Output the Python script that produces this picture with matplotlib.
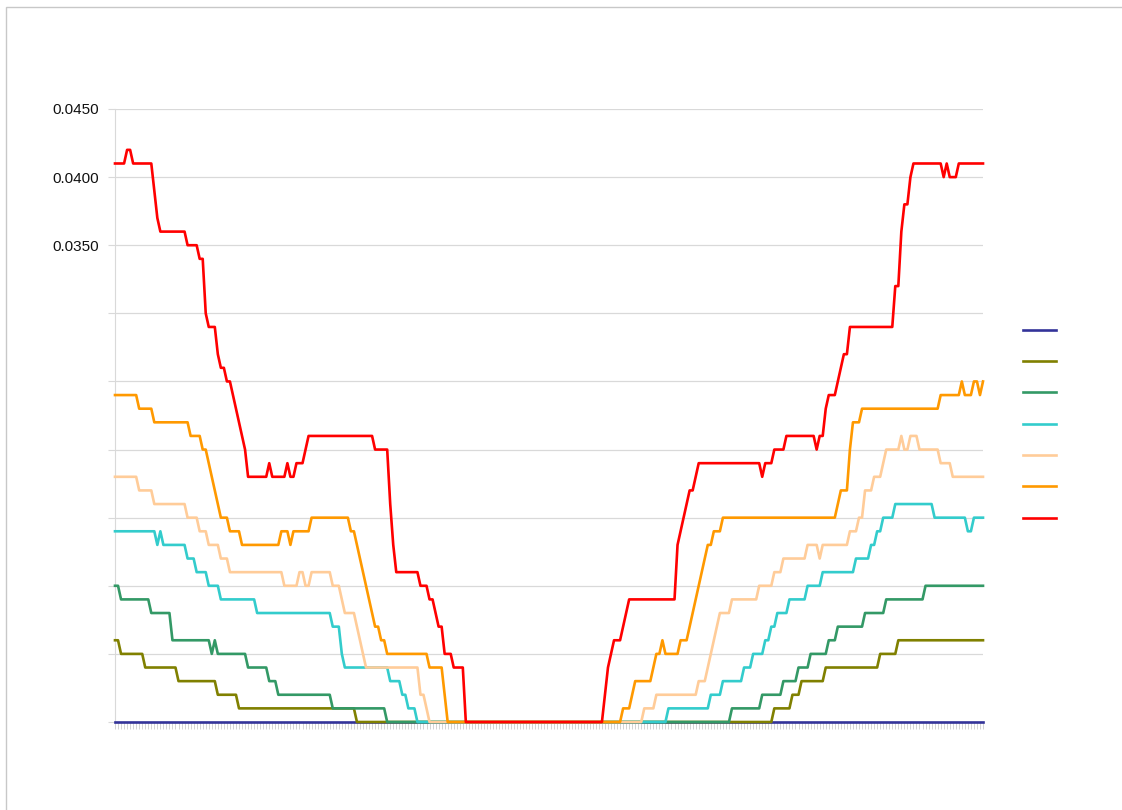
import numpy as np
import matplotlib
matplotlib.use('Agg')
import matplotlib.pyplot as plt
from matplotlib.lines import Line2D
from matplotlib.patches import Rectangle

# values as (value, number of points) runs, 288 points each
blue = [(0.0, 288)]
olive = [(0.006, 2), (0.005, 8), (0.004, 11), (0.003, 13), (0.002, 7), (0.001, 39),
         (0.0, 138), (0.001, 6), (0.002, 3), (0.003, 8), (0.004, 18), (0.005, 6), (0.006, 29)]
green = [(0.010, 2), (0.009, 10), (0.008, 7), (0.006, 13), (0.005, 1), (0.006, 1),
         (0.005, 10), (0.004, 7), (0.003, 3), (0.002, 18), (0.001, 18), (0.0, 114),
         (0.001, 10), (0.002, 7), (0.003, 5), (0.004, 4), (0.005, 6), (0.006, 3),
         (0.007, 9), (0.008, 7), (0.009, 13), (0.010, 20)]
cyan = [(0.014, 14), (0.013, 1), (0.014, 1), (0.013, 8), (0.012, 3), (0.011, 4),
        (0.010, 4), (0.009, 12), (0.008, 25), (0.007, 3), (0.005, 1), (0.004, 15),
        (0.003, 4), (0.002, 2), (0.001, 3), (0.0, 83), (0.001, 14), (0.002, 4),
        (0.003, 7), (0.004, 3), (0.005, 4), (0.006, 2), (0.007, 2), (0.008, 4),
        (0.009, 6), (0.010, 5), (0.011, 11), (0.012, 5), (0.013, 2), (0.014, 2),
        (0.015, 4), (0.016, 13), (0.015, 11), (0.014, 2), (0.015, 4)]
peach = [(0.018, 8), (0.017, 5), (0.016, 11), (0.015, 4), (0.014, 3), (0.013, 4),
         (0.012, 3), (0.011, 18), (0.010, 5), (0.011, 2), (0.010, 2), (0.011, 7),
         (0.010, 3), (0.009, 1), (0.008, 4), (0.007, 1), (0.006, 1), (0.005, 1),
         (0.004, 18), (0.002, 2), (0.001, 1), (0.0, 71), (0.001, 4), (0.002, 14),
         (0.003, 3), (0.004, 1), (0.005, 1), (0.006, 1), (0.007, 1), (0.008, 4),
         (0.009, 9), (0.010, 5), (0.011, 3), (0.012, 8), (0.013, 4), (0.012, 1),
         (0.013, 9), (0.014, 3), (0.015, 2), (0.017, 3), (0.018, 3), (0.019, 1),
         (0.020, 5), (0.021, 1), (0.020, 2), (0.021, 3), (0.020, 7), (0.019, 4),
         (0.018, 11)]
orange = [(0.024, 8), (0.023, 5), (0.022, 12), (0.021, 4), (0.020, 2), (0.019, 1),
          (0.018, 1), (0.017, 1), (0.016, 1), (0.015, 3), (0.014, 4), (0.013, 13),
          (0.014, 3), (0.013, 1), (0.014, 6), (0.015, 13), (0.014, 2), (0.013, 1),
          (0.012, 1), (0.011, 1), (0.010, 1), (0.009, 1), (0.008, 1), (0.007, 2),
          (0.006, 2), (0.005, 14), (0.004, 5), (0.002, 1), (0.0, 58), (0.001, 3),
          (0.002, 1), (0.003, 6), (0.004, 1), (0.005, 2), (0.006, 1), (0.005, 5),
          (0.006, 3), (0.007, 1), (0.008, 1), (0.009, 1), (0.010, 1), (0.011, 1),
          (0.012, 1), (0.013, 2), (0.014, 3), (0.015, 38), (0.016, 1), (0.017, 3),
          (0.020, 1), (0.022, 3), (0.023, 26), (0.024, 7), (0.025, 1), (0.024, 3),
          (0.025, 2), (0.024, 1), (0.025, 1)]
red = [(0.041, 4), (0.042, 2), (0.041, 7), (0.039, 1), (0.037, 1), (0.036, 9),
       (0.035, 4), (0.034, 2), (0.030, 1), (0.029, 3), (0.027, 1), (0.026, 2),
       (0.025, 2), (0.024, 1), (0.023, 1), (0.022, 1), (0.021, 1), (0.020, 1),
       (0.018, 7), (0.019, 1), (0.018, 5), (0.019, 1), (0.018, 2), (0.019, 3),
       (0.020, 1), (0.021, 22), (0.020, 5), (0.016, 1), (0.013, 1), (0.011, 8),
       (0.010, 3), (0.009, 2), (0.008, 1), (0.007, 2), (0.005, 3), (0.004, 4),
       (0.0, 46), (0.002, 1), (0.004, 1), (0.005, 1), (0.006, 3), (0.007, 1),
       (0.008, 1), (0.009, 16), (0.013, 1), (0.014, 1), (0.015, 1), (0.016, 1),
       (0.017, 2), (0.018, 1), (0.019, 21), (0.018, 1), (0.019, 3), (0.020, 4),
       (0.021, 10), (0.020, 1), (0.021, 2), (0.023, 1), (0.024, 3), (0.025, 1),
       (0.026, 1), (0.027, 2), (0.029, 15), (0.032, 2), (0.036, 1), (0.038, 2),
       (0.040, 1), (0.041, 10), (0.040, 1), (0.041, 1), (0.040, 3), (0.041, 9)]

series = [blue, olive, green, cyan, peach, orange, red]
colors = ['#333399', '#808000', '#339966', '#33CCCC', '#FFCC99', '#FF9900', '#FF0000']

y_ticks = [0.0, 0.005, 0.010, 0.015, 0.020, 0.025, 0.030, 0.035, 0.040, 0.045]
y_labels = ['', '', '', '', '', '', '', '0.0350', '0.0400', '0.0450']


def expand(runs):
    vals = [v for v, n in runs]
    counts = [n for v, n in runs]
    return np.repeat(vals, counts)


plt.rcParams['font.family'] = ['Liberation Sans', 'DejaVu Sans']

fig = plt.figure(figsize=(11.22, 8.10), dpi=100)
ax = fig.add_axes([115 / 1122, 88 / 810, 868 / 1122, 613 / 810])

n = 288
x = np.arange(n)
for s, c in zip(series, colors):
    y = expand(s)
    assert len(y) == n, (c, len(y))
    ax.plot(x, y, color=c, lw=1.9, solid_joinstyle='round', zorder=3, clip_on=False)

ax.set_xlim(0, n - 1)
ax.set_ylim(0, 0.045)
ax.set_yticks(y_ticks)
ax.set_yticklabels(y_labels, fontsize=11)
ax.set_xticks(x)
ax.set_xticklabels([])
ax.grid(axis='y', color='#d9d9d9', lw=0.9)
ax.set_axisbelow(True)
ax.tick_params(axis='y', length=5, color='#d9d9d9', pad=6.5, labelcolor='#111111')
ax.tick_params(axis='x', length=5, width=0.6, color='#cccccc', direction='out')
for side in ['top', 'right']:
    ax.spines[side].set_visible(False)
ax.spines['left'].set_color('#d9d9d9')
ax.spines['bottom'].set_color('#d9d9d9')

# legend with line keys only, no text
leg_handles = [Line2D([], [], color=c, lw=1.9) for c in colors]
fig.legend(leg_handles, [' '] * len(colors), loc='upper left',
           bbox_to_anchor=(1010 / 1122, 1 - 311 / 810), bbox_transform=fig.transFigure,
           frameon=False, fontsize=10, handlelength=2.4, labelspacing=1.25,
           borderpad=0.4, handletextpad=0.5)

# thin frame around the page
fig.patches.append(Rectangle((6 / 1122, -0.01), 1.2, (810 - 7) / 810 + 0.01,
                             transform=fig.transFigure, fill=False,
                             edgecolor='#c8c8c8', lw=1.0))

fig.savefig('out.png', dpi=100)
